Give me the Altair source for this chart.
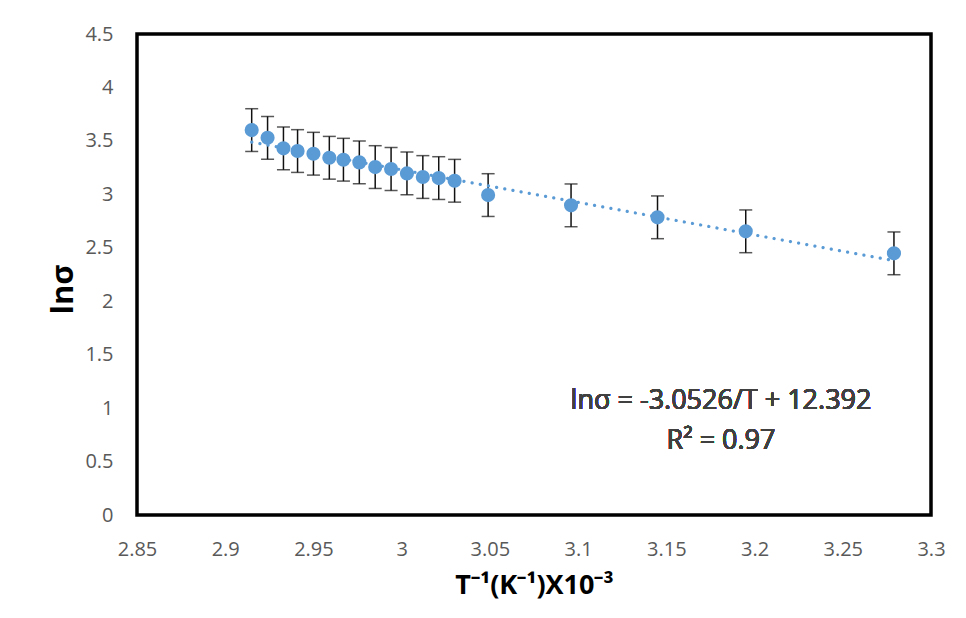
import altair as alt
import pandas as pd

# Data
inv_T = [2.915, 2.924, 2.933, 2.941, 2.950, 2.959, 2.967, 2.976, 2.985, 2.994,
         3.003, 3.012, 3.021, 3.030, 3.049, 3.096, 3.145, 3.195, 3.279]
ln_sigma = [3.601, 3.529, 3.430, 3.405, 3.380, 3.342, 3.324, 3.299, 3.255, 3.237,
            3.196, 3.162, 3.152, 3.127, 2.993, 2.897, 2.785, 2.654, 2.448]
err = [0.2] * 19

x_ticks = [2.85, 2.9, 2.95, 3.0, 3.05, 3.1, 3.15, 3.2, 3.25, 3.3]
y_ticks = [0, 0.5, 1, 1.5, 2, 2.5, 3, 3.5, 4, 4.5]

eq_line1 = "lnσ = -3.0526/T + 12.392"
eq_line2 = "R² = 0.97"

df = pd.DataFrame({"x": inv_T, "y": ln_sigma, "e": err})
df["lo"] = df["y"] - df["e"]
df["hi"] = df["y"] + df["e"]

FONT = "Open Sans"
BLUE = "#5B9BD5"

xscale = alt.Scale(domain=[2.85, 3.3], nice=False, zero=False)
yscale = alt.Scale(domain=[0, 4.5], nice=False)

xaxis = alt.Axis(values=x_ticks, format=".3~g", title="T⁻¹(K⁻¹)X10⁻³",
                 grid=False, domain=False, ticks=False, labelFlush=False,
                 labelOverlap=False,
                 labelFont=FONT, labelFontSize=20, labelColor="#595959",
                 labelPadding=24, titleFont=FONT, titleFontSize=27,
                 titleFontWeight="bold", titleColor="#000000",
                 titleBaseline="alphabetic", titleY=78)
yaxis = alt.Axis(values=y_ticks, format="~g", title="lnσ",
                 grid=False, domain=False, ticks=False, labelFlush=False,
                 labelOverlap=False,
                 labelFont=FONT, labelFontSize=20, labelColor="#595959",
                 labelPadding=24, titleFont=FONT, titleFontSize=31,
                 titleFontWeight="bold", titleColor="#000000",
                 titleAngle=-90, titleBaseline="alphabetic",
                 titleX=-65, titleY=255, titleAlign="center")

base = alt.Chart(df)

bars = base.mark_rule(color="#111111", strokeWidth=1.5).encode(
    x=alt.X("x:Q", scale=xscale, axis=xaxis),
    y=alt.Y("lo:Q", scale=yscale, axis=yaxis),
    y2="hi:Q",
)
caps_hi = base.mark_tick(color="#111111", thickness=1.5, size=13, orient="horizontal").encode(
    x=alt.X("x:Q", scale=xscale), y=alt.Y("hi:Q", scale=yscale))
caps_lo = base.mark_tick(color="#111111", thickness=1.5, size=13, orient="horizontal").encode(
    x=alt.X("x:Q", scale=xscale), y=alt.Y("lo:Q", scale=yscale))

points = base.mark_circle(color=BLUE, opacity=1, size=200).encode(
    x=alt.X("x:Q", scale=xscale), y=alt.Y("y:Q", scale=yscale))

trend = base.transform_regression("x", "y").mark_line(
    color=BLUE, strokeWidth=3.2, strokeDash=[0.1, 8.2], strokeCap="round"
).encode(x=alt.X("x:Q", scale=xscale), y=alt.Y("y:Q", scale=yscale))

txt1 = alt.Chart(df).mark_text(font=FONT, fontSize=27, color="#404040",
                               align="center", baseline="middle").encode(
    x=alt.datum(3.181, scale=xscale), y=alt.datum(1.066, scale=yscale),
    text=alt.value(eq_line1))
txt2 = alt.Chart(df).mark_text(font=FONT, fontSize=27, color="#404040",
                               align="center", baseline="middle").encode(
    x=alt.datum(3.181, scale=xscale), y=alt.datum(0.69, scale=yscale),
    text=alt.value(eq_line2))

chart = alt.layer(bars, caps_hi, caps_lo, points, trend, txt1, txt2).properties(
    width=794, height=481,
    autosize=alt.AutoSizeParams(type="none"),
    padding={"left": 137, "top": 34, "right": 35, "bottom": 103},
    background="white",
).configure_view(stroke="#000000", strokeWidth=3.5)

chart.save("out.html", embed_options={"renderer": "svg", "actions": False})
